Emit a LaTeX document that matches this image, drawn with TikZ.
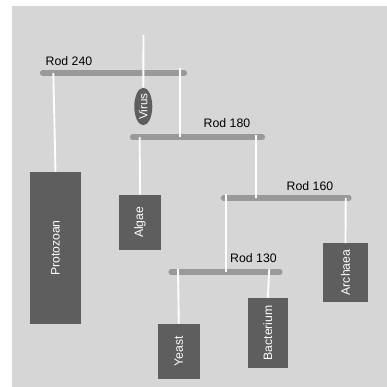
\documentclass[tikz,border=0pt]{standalone}
\usepackage{fontspec}
\setmainfont{Liberation Sans}
\usepackage{tikz}
\usetikzlibrary{shapes.geometric,calc}
\newcommand{\specimen}[5]{%
    \node[box, minimum width=#3, minimum height=#4] (#1) at #2 {\rotatebox{90}{#5}};%
}

\begin{document}
\begin{tikzpicture}[
        x=0.03cm,
        y=-0.03cm,
        rod/.style={line width=4.4pt, line cap=round, draw=black!40},
        hang/.style={line width=1.6pt, draw=white},
        box/.style={fill=black!63, draw=none, inner sep=0pt, text=white, font=\fontsize{10.4}{12}\selectfont},
        rodlabel/.style={font=\fontsize{10.5}{12}\selectfont, inner sep=0pt}
    ]
        % === FOND ===
        \useasboundingbox (0,0) rectangle (387,387);
        \fill[black!16] (12,6) rectangle (387,387);

        % === TIGES ===
        \coordinate (a1) at (42.5,73);   \coordinate (a2) at (184.5,73);
        \coordinate (b1) at (132.5,137); \coordinate (b2) at (262.5,137);
        \coordinate (c1) at (223.5,198); \coordinate (c2) at (349,198);
        \coordinate (d1) at (171,272);   \coordinate (d2) at (280,272);
        \draw[rod] (a1) -- (a2);
        \draw[rod] (b1) -- (b2);
        \draw[rod] (c1) -- (c2);
        \draw[rod] (d1) -- (d2);
        \node[rodlabel] (la) at (69,61.5) {Rod 240};
        \node[rodlabel] (lb) at (227,123.5) {Rod 180};
        \node[rodlabel] (lc) at (310,186.5) {Rod 160};
        \node[rodlabel] (ld) at (253.5,258.5) {Rod 130};

        % === ORGANISMES ===
        % \specimen{nom}{(x,y)}{largeur}{hauteur}{texte}
        \specimen{proto}{(55.5,248)}{1.53cm}{4.56cm}{Protozoan}
        \specimen{algae}{(140,222.3)}{1.26cm}{1.65cm}{Algae}
        \specimen{archaea}{(345.5,272.5)}{1.33cm}{1.75cm}{Archaea}
        \specimen{yeast}{(178.8,351.3)}{1.25cm}{1.64cm}{Yeast}
        \specimen{bact}{(267.8,332.8)}{1.19cm}{2.09cm}{Bacterium}
        \node[ellipse, fill=black!63, inner sep=0pt, minimum width=0.54cm, minimum height=1.11cm,
              text=white, font=\fontsize{10}{12}\selectfont] (virus) at (143.3,106.5) {\rotatebox{90}{Virus}};

        % === FILS ===
        \coordinate (top) at (143.5,35);
        \coordinate (pa) at (53.3,73);
        \coordinate (pb) at (180.3,68);  \coordinate (qb) at (180.3,137);
        \coordinate (pc) at (139.7,137);
        \coordinate (pd) at (256,135);   \coordinate (qd) at (256,198);
        \coordinate (pe) at (226.3,194); \coordinate (qe) at (226.3,272);
        \coordinate (pf) at (345.7,198);
        \coordinate (pg) at (178,269);
        \coordinate (ph) at (269.3,269);
        \draw[hang] (top) -- (virus.north);
        \draw[hang] (pa) -- (proto.north);
        \draw[hang] (pb) -- (qb);
        \draw[hang] (pc) -- (algae.north);
        \draw[hang] (pd) -- (qd);
        \draw[hang] (pe) -- (qe);
        \draw[hang] (pf) -- (archaea.north);
        \draw[hang] (pg) -- (yeast.north);
        \draw[hang] (ph) -- (bact.north);
    \end{tikzpicture}
\end{document}
